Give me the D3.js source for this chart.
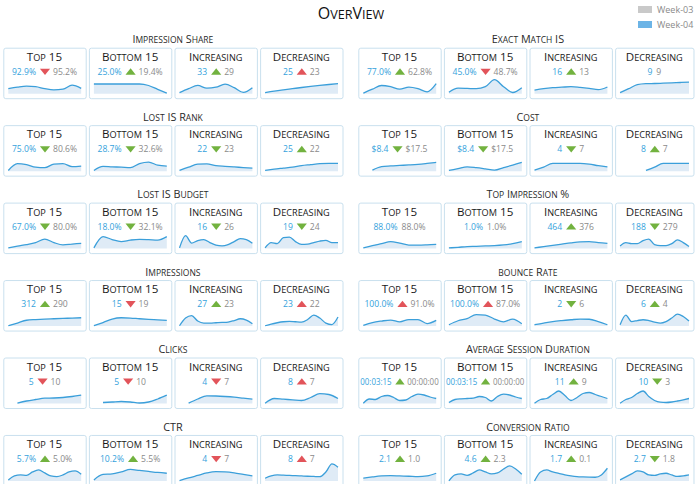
<!DOCTYPE html>
<html>
<head>
<meta charset="utf-8">
<script src="https://cdn.jsdelivr.net/npm/d3@7"></script>
<style>
  body { margin: 0; background: #fff; }
  svg { font-family: "Open Sans", sans-serif; }
</style>
</head>
<body>
<svg id="chart" width="700" height="484"></svg>
<script>
// ---- data ----
const pageTitle = "OverView";
const legendLabels = ["Week-03", "Week-04"];
const cardTitles = ["Top 15", "Bottom 15", "Increasing", "Decreasing"];

const sections = [
  "Impression Share", "Exact Match IS",
  "Lost IS Rank", "Cost",
  "Lost IS Budget", "Top Impression %",
  "Impressions", "bounce Rate",
  "Clicks", "Average Session Duration",
  "CTR", "Conversion Ratio"
];

const week04 = [
  ["92.9%", "25.0%", "33", "25"],
  ["77.0%", "45.0%", "16", "9"],
  ["75.0%", "28.7%", "22", "25"],
  ["$8.4", "$8.4", "4", "8"],
  ["67.0%", "18.0%", "16", "19"],
  ["88.0%", "1.0%", "464", "188"],
  ["312", "15", "27", "23"],
  ["100.0%", "100.0%", "2", "6"],
  ["5", "5", "4", "8"],
  ["00:03:15", "00:03:15", "11", "10"],
  ["5.7%", "10.2%", "4", "8"],
  ["2.1", "4.6", "1.7", "2.7"]
];

const week03 = [
  ["95.2%", "19.4%", "29", "23"],
  ["62.8%", "48.7%", "13", "9"],
  ["80.6%", "32.6%", "23", "22"],
  ["$17.5", "$17.5", "7", "7"],
  ["80.0%", "32.1%", "26", "24"],
  ["88.0%", "1.0%", "376", "279"],
  ["290", "19", "23", "22"],
  ["91.0%", "87.0%", "6", "4"],
  ["10", "10", "7", "7"],
  ["00:00:00", "00:00:00", "9", "3"],
  ["5.0%", "5.5%", "7", "7"],
  ["1.0", "2.3", "0.1", "1.8"]
];

// direction of change week-03 -> week-04 ("" = no change)
const change = [
  ["down", "up", "up", "up"],
  ["up", "down", "up", ""],
  ["down", "down", "down", "up"],
  ["down", "down", "down", "up"],
  ["down", "down", "down", "down"],
  ["", "", "up", "down"],
  ["up", "down", "up", "up"],
  ["up", "up", "down", "up"],
  ["down", "down", "down", "up"],
  ["up", "up", "up", "down"],
  ["up", "up", "down", "up"],
  ["up", "up", "up", "down"]
];

// whether that change is favourable
const favourable = [
  [false, true, true, false],
  [true, false, true, true],
  [true, true, true, true],
  [true, true, true, true],
  [true, true, true, true],
  [true, true, true, true],
  [true, false, true, false],
  [false, false, true, true],
  [false, false, false, false],
  [true, true, true, true],
  [true, true, false, false],
  [true, true, true, true]
];

// sparkline trends, one series per section
const sparkTop15 = [
  [5, 6.5, 7.5, 7, 5, 3.8, 4.5, 8.5, 5.3],
  [0.5, 4.5, 8.2, 7, 4.5, 6.5, 5, 1.8, 10],
  [0.7, 7.5, 6.5, 4, 3.5, 7, 7.5, 4.5, 5],
  [null, 1, 4.5, 5.2, 5.7, 6.2, 6.8, 7.7, 8.7],
  [0.7, 2.5, 4, 6, 9.5, 6, 3.7, 4.5, 5.3],
  [0.7, 3, 5, 7, 5.5, 3.5, 3.5, 3.8, 4.3],
  [0.3, 3, 5.8, 6.5, 7, 7.3, 7.6, 8, 8.3],
  [0.7, 3.5, 5, 6, 4.2, 6.5, 6.5, 2.5, 5.7],
  [null, 0.3, 2.5, 4, 5.3, 5.5, 6, 7, 8.3],
  [0.3, 4.5, 4, 7, 8, 6, 3, 3.5, 7, 9.3, 8.5, 6.5, 5],
  [1, 5, 6, 5.5, 9, 11, 8, 5, 4.3, 6, 9, 10, 6.7],
  [2.7, 4, 5, 5.3, 5, 4.7, 4.3, 5, 7.7]
];

const sparkBottom15 = [
  [9.7, 9.7, 9.7, 9.7, 9.7, 9.7, 8.2, 4.3, 0.5],
  [1.5, 5.5, 5.3, 5, 7, 14, 7, 1.2, 6],
  [0.7, 4.8, 4.3, 4, 3.5, 7.5, 9, 6, 5],
  [0.7, 2.5, 4.3, 3.5, 2.3, 1, 3.5, 6, 8.7],
  [0.7, 12, 9, 7, 8.5, 9.3, 9, 8.5, 12],
  [0.7, 1.3, 2, 2.3, 2.7, 3, 3.7, 5, 7],
  [0.3, 3.5, 7, 8.3, 8, 7.3, 6.7, 6.2, 5.7],
  [1.3, 5.3, 7.5, 11.5, 11, 7, 4.2, 7, 2.3],
  [null, 1, 1.5, 2, 1.5, 0.5, 1.5, 4.5, 8.3],
  [1, 4, 4.7, 5, 5.3, 7, 6, 2.5, 7, 9.3, 8.5, 6.5, 5],
  [1, 6.5, 7, 9, 11.5, 10.5, 9.5, 8.5, 7.7],
  [0, 6, 7, 5.5, 8, 11, 9, 7, 8, 12, 15, 12, 6.7]
];

const sparkIncreasing = [
  [1, 5, 8.3, 5.5, 6.5, 9.5, 6, 1.3, 6],
  [3.5, 5, 6, 6.5, 7, 6.3, 5.3, 4, 6.7],
  [0.7, 4, 7, 7.3, 5.5, 4.8, 4.2, 3.6, 3],
  [1, 4, 7.7, 7.7, 7.7, 7.7, 7, 5.5, 4.3],
  [0.7, 13, 5.5, 8, 9, 6, 3.5, 2.7, 4, 7, 10, 9, 5.3],
  [0.7, 2, 3.3, 4.5, 5.7, 6.7, 7, 6, 5.3],
  [0.3, 8, 10.5, 5, 3, 3, 3.3, 3.6, 4, 5.5, 7.3, 6, 2.3],
  [1.3, 3, 4.5, 5.5, 6.3, 7, 6.8, 4.5, 1.3],
  [null, 0.3, 4.5, 7.7, 7.5, 7, 6.3, 5.3, 4.3],
  [0.3, 4, 5, 9, 12.5, 8, 3, 6, 10, 11, 9, 7, 5],
  [0.3, 3, 5.5, 8, 9.3, 9, 8, 6.5, 5],
  [0, 9, 11, 9, 7.5, 6, 5, 4.3, 4, 3.8, 3.7, 6, 12.7]
];

const sparkDecreasing = [
  [1, 2.5, 3.8, 5, 6.2, 7.3, 8.3, 9.2, 10],
  [1, 5, 9, 10, 10.2, 10.5, 10.8, 11.2, 11.5],
  [0.7, 2, 3, 4, 5.5, 6.5, 7.5, 7.7, 7.7],
  [null, null, null, 0.7, 4, 7.7, 7.7, 7.7, 7.7],
  [0.7, 6, 5, 11, 11.5, 7, 4.3, 4.5, 6, 7.5, 8.3, 6, 6],
  [2.7, 6, 5, 5, 8, 9.5, 4, 3, 3, 5, 8.7, 6, 2],
  [0.3, 2, 3.3, 4.3, 4.7, 4.3, 4, 6.5, 11, 8, 3, 1.5, 9],
  [1.3, 11, 4.5, 5.5, 6.3, 5.5, 4, 3, 4.5, 8, 12, 9.5, 5],
  [0.3, 5, 4.3, 3.7, 3, 6, 9.8, 9, 5],
  [0.3, 4, 6, 10, 12.5, 7, 3, 1.3, 1, 1.5, 2.5, 3.7, 5],
  [2.7, 5, 6, 5.8, 5.5, 5.3, 5, 4.7, 4.5, 4.3, 9, 17, 13.7],
  [1, 4, 7, 10, 9, 6, 5.5, 7, 7.7, 6, 4.5, 5, 6]
];

const sparks = [sparkTop15, sparkBottom15, sparkIncreasing, sparkDecreasing];

// ---- layout ----
const svg = d3.select("#chart");
const colX = [3.3, 358.3];
const cardStep = 85.6, cardW = 82.4, cardH = 50.5;
const rightLimit = 693.5;
const rowTop0 = 47.7, rowStep = 77.45;

const blue = "#35a2dc", gray = "#8a8a8a";
const lineCol = "#3b9fda", areaCol = "#dfebf6";
const upCol = { true: "#72b23f", false: "#e2545a" };

// small caps done by hand: lowercase letters become capitals at a smaller size
function smallCaps(sel, str, size, ratio = 0.79) {
  const parts = [];
  for (const ch of str) {
    const low = ch !== ch.toUpperCase();
    const last = parts[parts.length - 1];
    if (last && last.low === low) last.s += ch;
    else parts.push({ low, s: ch });
  }
  sel.selectAll("tspan").data(parts).join("tspan")
    .attr("font-size", d => d.low ? size * ratio : size)
    .text(d => d.low ? d.s.toUpperCase() : d.s);
  return sel;
}

// title
smallCaps(svg.append("text")
  .attr("x", 351).attr("y", 19)
  .attr("text-anchor", "middle")
  .attr("fill", "#111"), pageTitle, 16);

// legend
const legColors = ["#c9c9c9", "#6cb4e6"];
const leg = svg.append("g").attr("transform", "translate(638,6)");
legendLabels.forEach((lab, i) => {
  const g = leg.append("g").attr("transform", `translate(0,${i * 15})`);
  g.append("rect").attr("width", 14).attr("height", 7).attr("fill", legColors[i]);
  g.append("text").attr("x", 19).attr("y", 3.5)
    .attr("dominant-baseline", "central")
    .attr("font-size", 9).attr("fill", gray).text(lab);
});

const ySpark = d3.scaleLinear().domain([0, 18]).range([0, -18]);

sections.forEach((name, si) => {
  const row = Math.floor(si / 2), col = si % 2;
  const top = rowTop0 + row * rowStep;
  const x0 = colX[col];
  const colCenter = x0 + (cardStep * 3 + cardW) / 2;

  smallCaps(svg.append("text")
    .attr("x", colCenter).attr("y", top - 4.3)
    .attr("text-anchor", "middle")
    .attr("fill", "#2a2a2a"), name, 10.8);

  cardTitles.forEach((ct, ci) => {
    const cx = x0 + ci * cardStep;
    const w = Math.min(cardW, rightLimit - cx);
    const g = svg.append("g").attr("transform", `translate(${cx},${top})`);

    g.append("rect")
      .attr("x", 0.5).attr("y", 0.5)
      .attr("width", w).attr("height", cardH)
      .attr("rx", 2)
      .attr("fill", "#fff").attr("stroke", "#c9e0ee");

    smallCaps(g.append("text")
      .attr("x", w / 2).attr("y", 13.2)
      .attr("text-anchor", "middle")
      .attr("fill", "#1a1a1a"), ct, 11.6);

    // values line: week-04, arrow, week-03
    const vals = g.append("g");
    const inner = vals.append("g");
    const tNow = inner.append("text").attr("font-size", 8.6).attr("fill", blue)
      .attr("dominant-baseline", "central").attr("y", 24).text(week04[si][ci]);
    const tPrev = inner.append("text").attr("font-size", 8.6).attr("fill", gray)
      .attr("dominant-baseline", "central").attr("y", 24).text(week03[si][ci]);
    const wNow = tNow.node().getComputedTextLength();
    const wPrev = tPrev.node().getComputedTextLength();
    const dir = change[si][ci];
    const triW = 10, gapA = 4, gapB = 3;
    const total = dir ? wNow + gapA + triW + gapB + wPrev : wNow + 4 + wPrev;
    tNow.attr("x", 0);
    if (dir) {
      const tx = wNow + gapA + triW / 2;
      inner.append("path")
        .attr("d", d3.symbol(d3.symbolTriangle, 45)())
        .attr("transform", `translate(${tx},${24 + (dir === "up" ? 0.9 : -0.9)}) scale(1,${dir === "up" ? 0.72 : -0.72})`)
        .attr("fill", upCol[favourable[si][ci]]);
      tPrev.attr("x", wNow + gapA + triW + gapB);
    } else {
      tPrev.attr("x", wNow + 4);
    }
    const fit = Math.min(1, (w - 4) / total);
    vals.attr("transform", `translate(${(w - total * fit) / 2},0) scale(${fit},1)`);

    // sparkline
    const data = sparks[ci][si];
    const x = d3.scaleLinear().domain([0, data.length - 1]).range([5, w - 4.5]);
    const base = 46;
    const sg = g.append("g").attr("transform", `translate(0,${base})`);
    const area = d3.area()
      .defined(d => d != null)
      .x((d, i) => x(i)).y0(ySpark(0)).y1(d => ySpark(d))
      .curve(d3.curveMonotoneX);
    const line = d3.line()
      .defined(d => d != null)
      .x((d, i) => x(i)).y(d => ySpark(d))
      .curve(d3.curveMonotoneX);
    sg.append("path").attr("d", area(data)).attr("fill", areaCol);
    sg.append("path").attr("d", line(data))
      .attr("fill", "none").attr("stroke", lineCol).attr("stroke-width", 1.3);
  });
});
</script>
</body>
</html>
